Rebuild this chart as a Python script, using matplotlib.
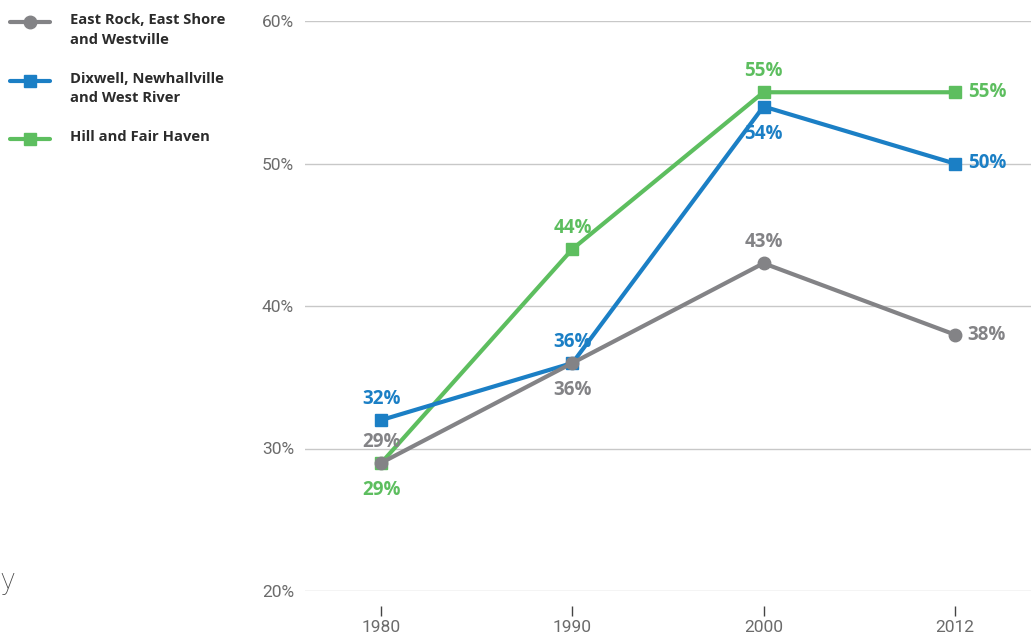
import numpy as np
import matplotlib.pyplot as plt

years = ['1980', '1990', '2000', '2012']
east_rock = [29, 36, 43, 38]
dixwell = [32, 36, 54, 50]
hill = [29, 44, 55, 55]

names = ['East Rock, East Shore\nand Westville',
         'Dixwell, Newhallville\nand West River',
         'Hill and Fair Haven']

GRAY = '#838386'
BLUE = '#1b7fc5'
GREEN = '#5dbe5f'

plt.rcParams['font.family'] = ['Roboto', 'DejaVu Sans']
BOLD = ['Open Sans', 'DejaVu Sans']

fig = plt.figure(figsize=(10.31, 6.39), dpi=100)
ax = fig.add_axes([305 / 1031, 1 - 591 / 639, 1 - 305 / 1031, (591 - 21) / 639])

x = np.arange(len(years))
# drawing order: green under, gray on top
ax.plot(x, hill, color=GREEN, lw=3, marker='s', ms=9, zorder=3)
ax.plot(x, dixwell, color=BLUE, lw=3, marker='s', ms=9, zorder=4)
ax.plot(x, east_rock, color=GRAY, lw=3, marker='o', ms=9, zorder=5)

ax.set_xlim(-0.4, 3.4)
ax.set_ylim(20, 60)
ax.set_yticks([20, 30, 40, 50, 60])
ax.set_yticklabels(['20%', '30%', '40%', '50%', '60%'])
ax.set_xticks(x)
ax.set_xticklabels(years)
ax.grid(axis='y', color='#c8c8c8', lw=1)
ax.set_axisbelow(True)
for s in ax.spines.values():
    s.set_visible(False)
ax.tick_params(axis='y', length=0, pad=8, labelsize=12.5, labelcolor='#6b6b6b')
ax.tick_params(axis='x', length=7, width=1, color='#444444', pad=3,
               labelsize=12.5, labelcolor='#6b6b6b', direction='out')
ax.spines['bottom'].set_position(('outward', 11))


def lab(i, v, col, where):
    if where == 'up':
        off, ha = (0, 15), 'center'
    elif where == 'down':
        off, ha = (0, -19.5), 'center'
    else:
        off, ha = (9.5, 0), 'left'
    ax.annotate('%d%%' % v, (x[i], v), xytext=off, textcoords='offset points',
                ha=ha, va='center', color=col, fontsize=13.5, fontweight='bold',
                family=BOLD, zorder=6)


for i, w in enumerate(['up', 'down', 'up', 'right']):
    lab(i, east_rock[i], GRAY, w)
for i, w in enumerate(['up', 'up', 'down', 'right']):
    lab(i, dixwell[i], BLUE, w)
for i, w in enumerate(['down', 'up', 'up', 'right']):
    lab(i, hill[i], GREEN, w)

# legend drawn in figure coords
leg_y = [22, 81, 139]
for ly, nm, col, mk in zip(leg_y, names, [GRAY, BLUE, GREEN], ['o', 's', 's']):
    yy = 1 - ly / 639
    fig.add_artist(plt.Line2D([10 / 1031, 50 / 1031], [yy, yy], color=col, lw=3,
                              solid_capstyle='round', transform=fig.transFigure))
    fig.add_artist(plt.Line2D([30 / 1031], [yy], color=col, marker=mk, ms=9,
                              transform=fig.transFigure))
    fig.text(70 / 1031, yy + 9 / 639, nm, ha='left', va='top', fontsize=10.6,
             fontweight='bold', family=BOLD, color='#2b2b2b', linespacing=1.5)

fig.text(0, 1 - 581 / 639, 'y', ha='left', va='center', fontsize=21,
         color='#444444', fontweight='light')

fig.savefig('out.png', dpi=100)
